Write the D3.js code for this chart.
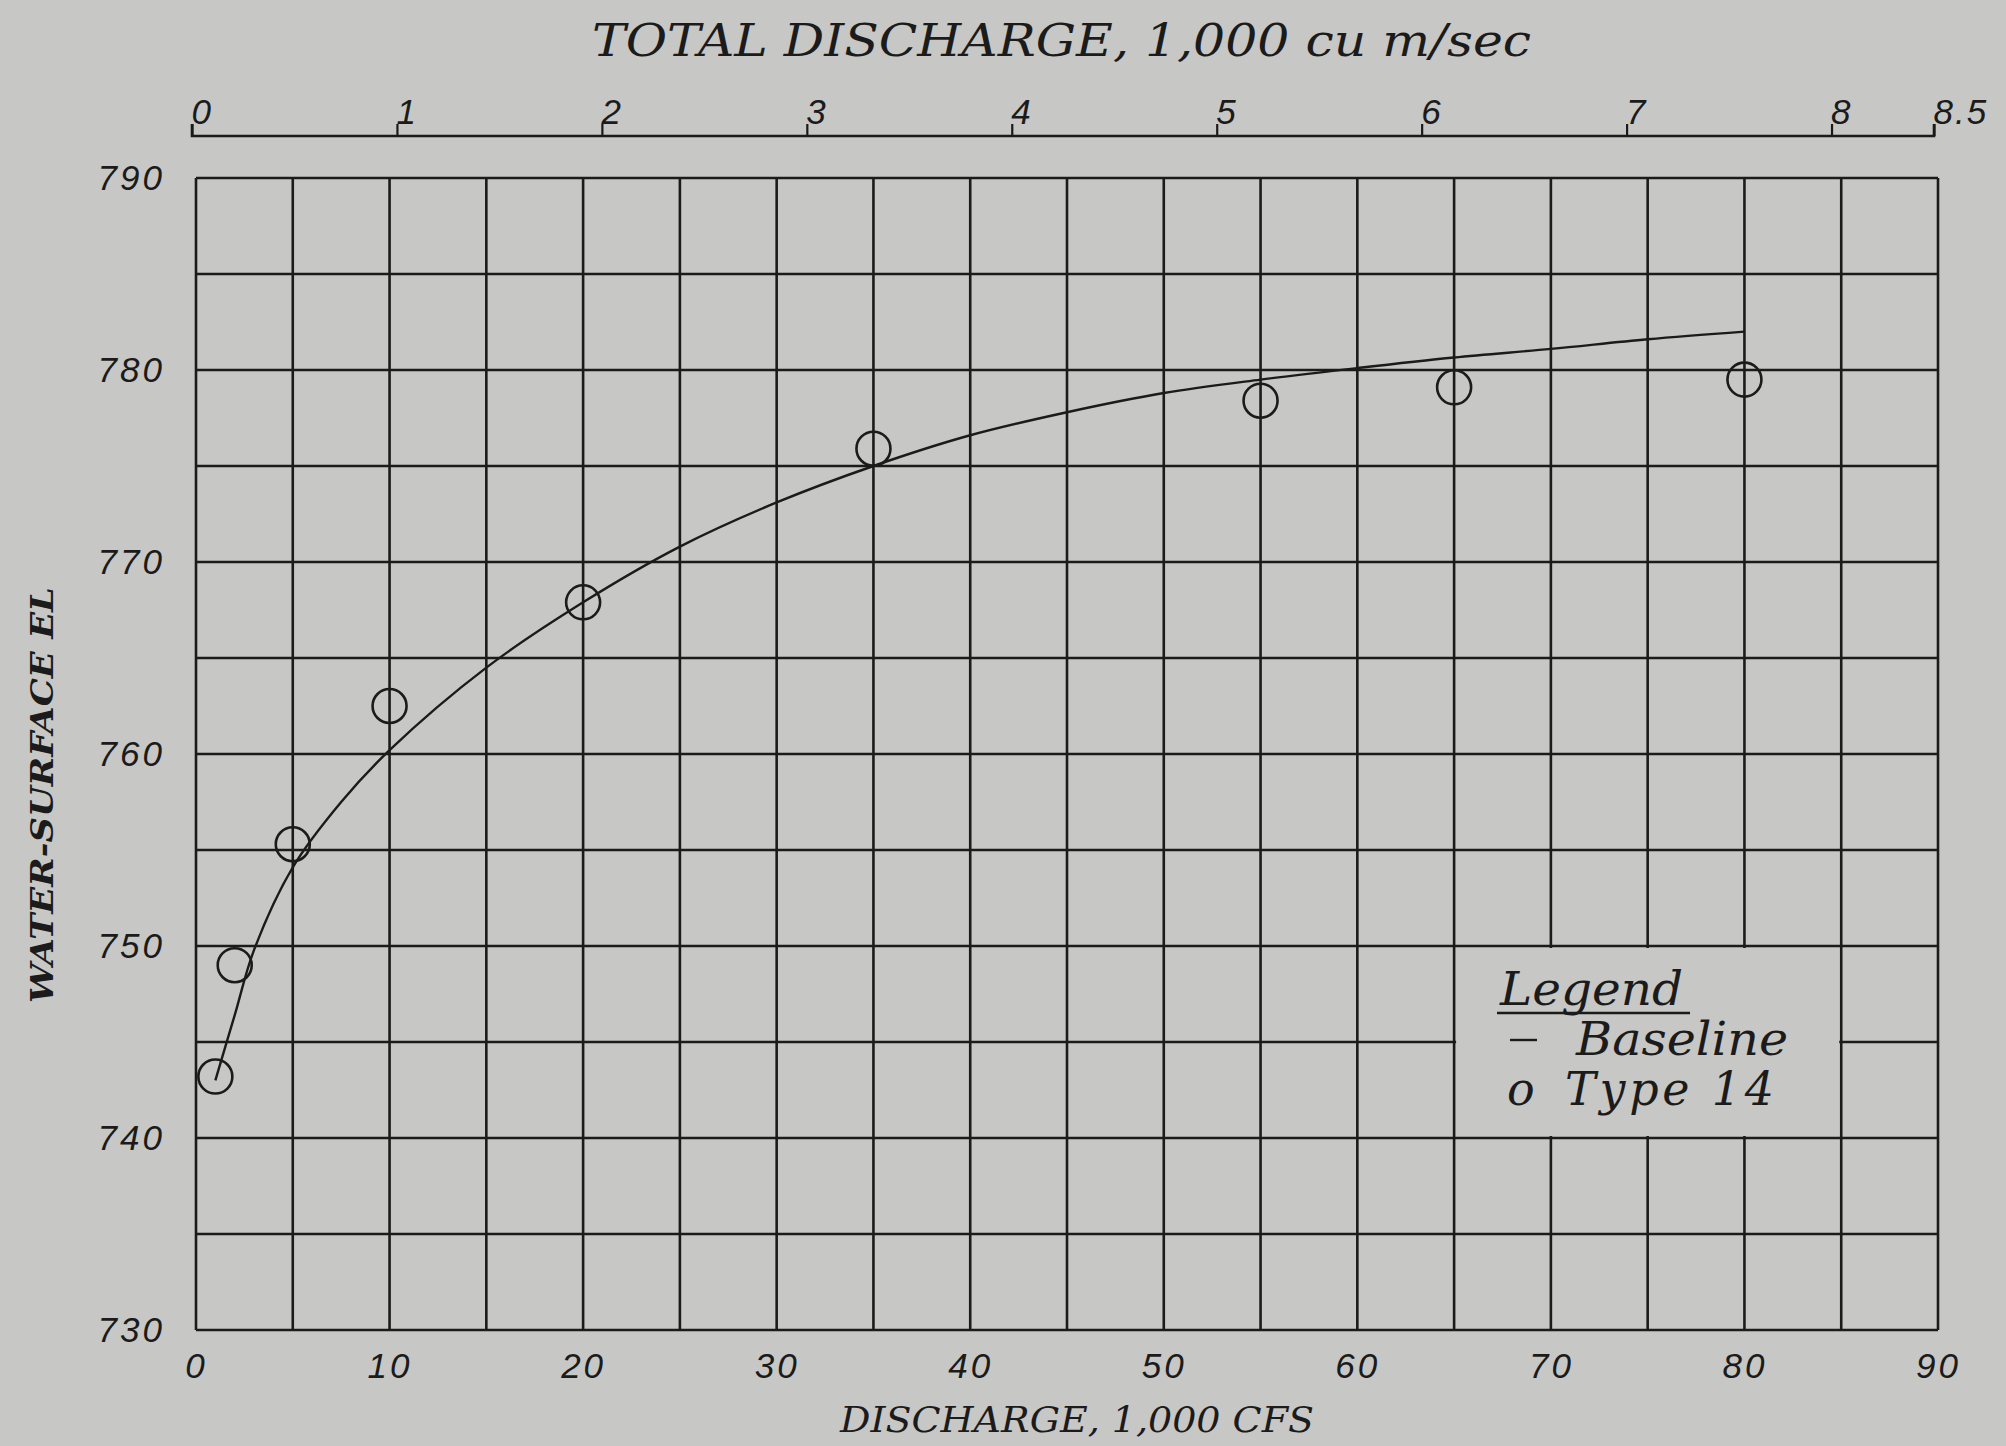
<!DOCTYPE html>
<html>
<head>
<meta charset="utf-8">
<script src="https://cdn.jsdelivr.net/npm/d3@7"></script>
<style>
  html, body { margin: 0; padding: 0; background: #c7c7c5; }
  svg { display: block; }
</style>
</head>
<body>
<svg id="chart" width="2006" height="1446"></svg>
<script>
// Rating data: discharge (1,000 cfs) vs water-surface elevation
const baselineQ  = [1, 2, 3, 5, 7.5, 10, 15, 20, 25, 30, 35, 40, 45, 50, 55, 60, 65, 70, 75, 80];
const baselineEl = [743.0, 746.4, 749.8, 754.1, 757.5, 760.2, 764.5, 767.9, 770.8, 773.1, 775.0, 776.6, 777.8, 778.8, 779.5, 780.1, 780.65, 781.1, 781.6, 782.0];

const type14Q  = [1, 2, 5, 10, 20, 35, 55, 65, 80];
const type14El = [743.2, 749.0, 755.3, 762.5, 767.9, 775.9, 778.4, 779.1, 779.5];

const xTicks = [0, 10, 20, 30, 40, 50, 60, 70, 80, 90];
const yTicks = [730, 740, 750, 760, 770, 780, 790];
const xGrid = d3.range(0, 91, 5);
const yGrid = d3.range(730, 791, 5);
const topTicks = [0, 1, 2, 3, 4, 5, 6, 7, 8, 8.5];
const topTickLabels = ["0", "1", "2", "3", "4", "5", "6", "7", "8", "8.5"];

const legendTitle = "Legend";
const legendItems = ["Baseline", "Type 14"];

const ink = "#1b1b1b";
const paper = "#c7c7c5";
const serif = "'DejaVu Serif', 'Liberation Serif', serif";
const sans = "'Liberation Sans', Arial, sans-serif";

const svg = d3.select("#chart");
const plot = { left: 196, right: 1938, top: 178, bottom: 1330 };

const x = d3.scaleLinear().domain([0, 90]).range([plot.left, plot.right]);
const y = d3.scaleLinear().domain([730, 790]).range([plot.bottom, plot.top]);
const xTop = d3.scaleLinear().domain([0, 8.5]).range([192, 1934]);

svg.append("rect").attr("width", 2006).attr("height", 1446).attr("fill", paper);

// grid
const grid = svg.append("g").attr("stroke", ink).attr("stroke-width", 2.6);
grid.selectAll("line.v").data(xGrid).join("line").attr("class", "v")
  .attr("x1", d => x(d)).attr("x2", d => x(d))
  .attr("y1", plot.top).attr("y2", plot.bottom);
grid.selectAll("line.h").data(yGrid).join("line").attr("class", "h")
  .attr("x1", plot.left).attr("x2", plot.right)
  .attr("y1", d => y(d)).attr("y2", d => y(d));

// legend panel blanks the grid cells it sits on
svg.append("rect")
  .attr("x", x(65) + 2).attr("y", y(750) + 2)
  .attr("width", x(85) - x(65) - 4).attr("height", y(740) - y(750) - 4)
  .attr("fill", paper);

// bottom axis labels
const xAxis = svg.append("g")
  .attr("transform", `translate(0,${plot.bottom})`)
  .call(d3.axisBottom(x).tickValues(xTicks).tickSize(0).tickPadding(23));
xAxis.select(".domain").remove();
xAxis.selectAll("text")
  .attr("fill", ink).attr("font-family", sans).attr("font-style", "italic")
  .attr("font-size", 35).attr("letter-spacing", 3);

// left axis labels
const yAxis = svg.append("g")
  .attr("transform", `translate(${plot.left},0)`)
  .call(d3.axisLeft(y).tickValues(yTicks).tickSize(0).tickPadding(31));
yAxis.select(".domain").remove();
yAxis.selectAll("text")
  .attr("fill", ink).attr("font-family", sans).attr("font-style", "italic")
  .attr("font-size", 35).attr("letter-spacing", 3);

// top axis in cu m/sec
const topAxis = svg.append("g")
  .attr("transform", "translate(0,136)")
  .call(d3.axisTop(xTop).tickValues(topTicks).tickSize(12).tickPadding(0)
    .tickFormat((d, i) => topTickLabels[i]));
topAxis.select(".domain").attr("stroke", ink).attr("stroke-width", 2.6).attr("d", `M${xTop(0)},-12V0H${xTop(8.5)}V-12`);
topAxis.selectAll(".tick line").attr("stroke", ink).attr("stroke-width", 2.2);
topAxis.selectAll("text")
  .attr("text-anchor", "start").attr("dx", -1)
  .attr("fill", ink).attr("font-family", sans).attr("font-style", "italic")
  .attr("font-size", 35).attr("letter-spacing", 2);

// baseline rating curve
const line = d3.line().x(d => x(d[0])).y(d => y(d[1])).curve(d3.curveCatmullRom.alpha(0.5));
svg.append("path")
  .datum(baselineQ.map((q, i) => [q, baselineEl[i]]))
  .attr("d", line).attr("fill", "none").attr("stroke", ink).attr("stroke-width", 2.4);

// Type 14 observations
svg.append("g").selectAll("circle")
  .data(type14Q.map((q, i) => [q, type14El[i]]))
  .join("circle")
  .attr("cx", d => x(d[0])).attr("cy", d => y(d[1])).attr("r", 17)
  .attr("fill", "none").attr("stroke", ink).attr("stroke-width", 2.6);

// titles
svg.append("text")
  .attr("x", 592).attr("y", 56).attr("textLength", 939).attr("lengthAdjust", "spacingAndGlyphs")
  .attr("font-family", serif).attr("font-style", "italic").attr("font-size", 44).attr("fill", ink)
  .text("TOTAL DISCHARGE, 1,000 cu m/sec");

svg.append("text")
  .attr("x", 840).attr("y", 1432).attr("textLength", 474).attr("lengthAdjust", "spacingAndGlyphs")
  .attr("font-family", serif).attr("font-style", "italic").attr("font-size", 36).attr("fill", ink)
  .text("DISCHARGE, 1,000 CFS");

svg.append("text")
  .attr("transform", "translate(53,1003) rotate(-90)")
  .attr("textLength", 416).attr("lengthAdjust", "spacingAndGlyphs")
  .attr("font-family", serif).attr("font-style", "italic").attr("font-weight", "bold")
  .attr("font-size", 32).attr("fill", ink)
  .text("WATER-SURFACE EL");

// legend
const lg = svg.append("g").attr("font-family", serif).attr("font-style", "italic").attr("fill", ink);
lg.append("text").attr("x", 1500).attr("y", 1005).attr("font-size", 46)
  .attr("textLength", 183).attr("lengthAdjust", "spacingAndGlyphs").text(legendTitle);
lg.append("line").attr("x1", 1497).attr("x2", 1690).attr("y1", 1013).attr("y2", 1013)
  .attr("stroke", ink).attr("stroke-width", 2.6);
lg.append("line").attr("x1", 1510).attr("x2", 1537).attr("y1", 1040).attr("y2", 1040)
  .attr("stroke", ink).attr("stroke-width", 2.4);
lg.append("text").attr("x", 1576).attr("y", 1055).attr("font-size", 46)
  .attr("textLength", 212).attr("lengthAdjust", "spacingAndGlyphs").text(legendItems[0]);
lg.append("text").attr("x", 1507).attr("y", 1105).attr("font-size", 46).text("o");
lg.append("text").attr("x", 1565).attr("y", 1105).attr("font-size", 46)
  .attr("textLength", 209).attr("lengthAdjust", "spacing").text(legendItems[1]);
</script>
</body>
</html>
